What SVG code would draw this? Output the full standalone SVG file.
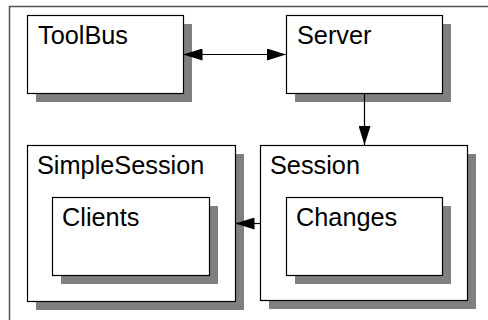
<svg xmlns="http://www.w3.org/2000/svg" width="488" height="320" viewBox="0 0 488 320">
  <style>
    .frame { fill: #ffffff; stroke: #555555; stroke-width: 1.5; }
    .shadow { fill: #808080; stroke: none; }
    .box { fill: #ffffff; stroke: #000000; stroke-width: 1.2; }
    .label { font-family: "Liberation Sans", Arial, sans-serif; font-size: 25.3px; fill: #000000; }
    .link { stroke: #000000; stroke-width: 1.2; fill: none; }
  </style>
  <defs>
    <marker id="arrow" viewBox="0 0 19 12" refX="19" refY="6" markerWidth="19" markerHeight="12" markerUnits="userSpaceOnUse" orient="auto-start-reverse">
      <path d="M0,0 L19,6 L0,12 Z" fill="#000000"/>
    </marker>
  </defs>

  <rect x="0" y="0" width="488" height="320" fill="#ffffff"/>
  <!-- outer frame running off the right and bottom edges -->
  <rect class="frame" x="9.5" y="6.5" width="490" height="330"/>

  <g id="ToolBus">
    <rect class="shadow" x="36" y="24" width="156" height="78"/>
    <rect class="box" x="27.5" y="15.5" width="156" height="78"/>
    <text class="label" x="38" y="44">ToolBus</text>
  </g>

  <g id="Server">
    <rect class="shadow" x="295" y="24" width="156" height="78"/>
    <rect class="box" x="286.5" y="15.5" width="156" height="78"/>
    <text class="label" x="297" y="44">Server</text>
  </g>

  <g id="SimpleSession">
    <rect class="shadow" x="36" y="154" width="208" height="156"/>
    <rect class="box" x="27.5" y="145.5" width="208" height="156"/>
    <text class="label" x="37" y="174">SimpleSession</text>
  </g>

  <g id="Clients">
    <rect class="shadow" x="61" y="206" width="157" height="78"/>
    <rect class="box" x="52.5" y="197.5" width="157" height="78"/>
    <text class="label" x="62" y="226">Clients</text>
  </g>

  <g id="Session">
    <rect class="shadow" x="269" y="154" width="207" height="155"/>
    <rect class="box" x="260.5" y="145.5" width="207" height="155"/>
    <text class="label" x="270" y="174">Session</text>
  </g>

  <g id="Changes">
    <rect class="shadow" x="295" y="206" width="156" height="78"/>
    <rect class="box" x="286.5" y="197.5" width="156" height="78"/>
    <text class="label" x="296" y="226">Changes</text>
  </g>

  <g id="connectors">
    <line class="link" x1="183.5" y1="54.5" x2="286" y2="54.5" marker-start="url(#arrow)" marker-end="url(#arrow)"/>
    <line class="link" x1="364.5" y1="93.5" x2="364.5" y2="145" marker-end="url(#arrow)"/>
    <line class="link" x1="260" y1="223.5" x2="235.5" y2="223.5" marker-end="url(#arrow)"/>
  </g>
</svg>
